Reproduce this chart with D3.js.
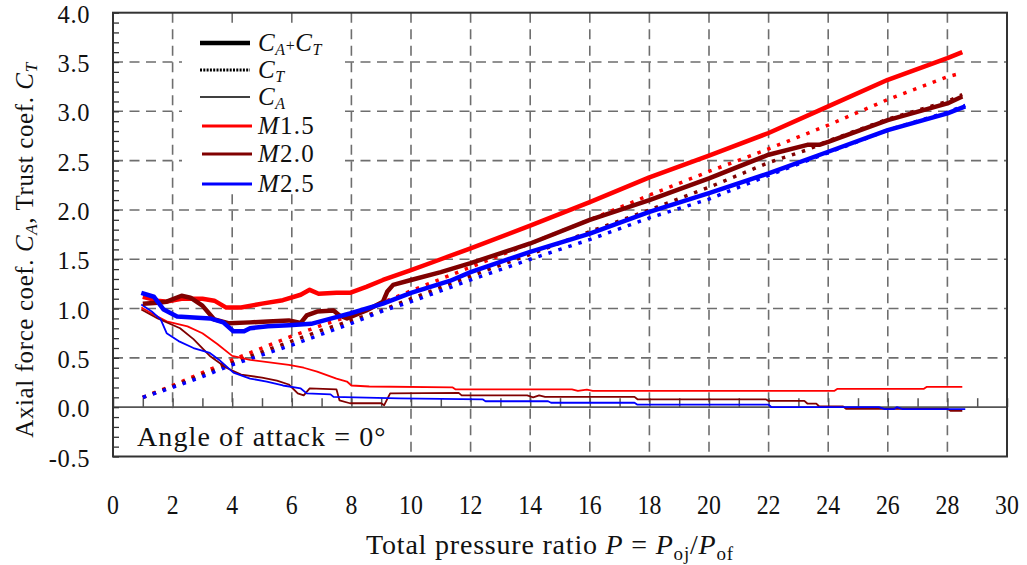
<!DOCTYPE html>
<html><head><meta charset="utf-8">
<script src="https://cdn.jsdelivr.net/npm/d3@7"></script>
<style>
body{margin:0;background:#fff;}
</style></head>
<body><svg id="c" width="1027" height="565" font-family="'Liberation Serif','DejaVu Serif','Noto Serif',serif"></svg>
<script>
// ---------- data ----------
const xTicks = [0,2,4,6,8,10,12,14,16,18,20,22,24,26,28,30];
const yTicks = [-0.5,0,0.5,1.0,1.5,2.0,2.5,3.0,3.5,4.0];

// M1.5 : CA+CT, CT, CA   [P, coefficient]
const m15Total = [[1.0,1.12],[1.5,1.08],[1.8,1.07],[2.3,1.10],[3.0,1.10],[3.4,1.08],[3.8,1.01],[4.3,1.01],[5.0,1.05],[5.7,1.085],[6.3,1.14],[6.6,1.19],[6.9,1.15],[7.5,1.16],[7.95,1.16],[8.5,1.22],[9.06,1.29],[10,1.39],[11,1.50],[12,1.61],[14,1.84],[16,2.08],[18,2.33],[20,2.55],[22,2.78],[24,3.05],[26,3.32],[28,3.54],[28.5,3.60]];
const m15Thrust = [[1.0,0.10],[2,0.22],[3,0.35],[4,0.48],[5,0.60],[6,0.72],[7,0.83],[8,0.93],[10,1.18],[12,1.42],[14,1.66],[16,1.90],[18,2.15],[20,2.39],[22,2.62],[24,2.86],[26,3.12],[28,3.35],[28.5,3.39]];
const m15Axial = [[0.95,1.01],[1.3,0.95],[1.8,0.87],[2.5,0.82],[3.0,0.75],[3.5,0.64],[4.0,0.52],[4.6,0.48],[5.9,0.43],[6.4,0.40],[6.85,0.36],[7.5,0.29],[7.85,0.26],[8.0,0.22],[8.6,0.21],[11.4,0.20],[11.5,0.18],[15.4,0.18],[15.6,0.165],[15.9,0.178],[16.1,0.165],[24.2,0.165],[24.3,0.185],[27.2,0.185],[27.3,0.205],[28.5,0.205]];

// M2.0
const m20Total = [[1.0,1.05],[1.5,1.06],[1.8,1.07],[2.3,1.13],[2.6,1.11],[3.0,1.03],[3.4,0.89],[3.9,0.85],[4.6,0.86],[5.2,0.87],[5.9,0.88],[6.3,0.855],[6.5,0.93],[6.85,0.97],[7.4,0.98],[7.6,0.93],[7.85,0.90],[8.5,0.98],[9.06,1.07],[9.2,1.17],[9.4,1.24],[10,1.29],[11,1.37],[12,1.46],[14,1.66],[16,1.90],[18,2.10],[20,2.32],[22,2.56],[23.3,2.66],[23.7,2.66],[24,2.69],[26,2.91],[28,3.08],[28.5,3.15]];
const m20Thrust = [[1.0,0.10],[2,0.21],[3,0.33],[4,0.45],[5,0.56],[6,0.67],[7,0.78],[8,0.88],[9,0.98],[10,1.10],[12,1.33],[14,1.55],[16,1.78],[18,2.00],[20,2.23],[22,2.48],[23.3,2.61],[24,2.70],[26,2.92],[28,3.10],[28.5,3.17]];
const m20Axial = [[0.95,0.99],[1.5,0.90],[2.25,0.80],[2.7,0.69],[3.25,0.52],[3.8,0.40],[4.3,0.33],[5.0,0.30],[5.5,0.27],[5.9,0.23],[6.2,0.14],[6.4,0.12],[6.6,0.19],[7.5,0.18],[7.6,0.07],[7.95,0.04],[9.0,0.04],[9.1,0.02],[9.3,0.14],[11.6,0.145],[11.7,0.12],[13.9,0.12],[14.1,0.10],[14.3,0.12],[14.5,0.105],[17.5,0.105],[17.6,0.08],[21.9,0.08],[22.0,0.064],[23.2,0.064],[23.3,0.037],[23.6,0.037],[23.7,0.007],[24.5,0.007],[24.6,-0.017],[28.0,-0.017],[28.1,-0.037],[28.5,-0.037]];

// M2.5
const m25Total = [[0.95,1.16],[1.37,1.12],[1.7,0.99],[2.15,0.92],[3.26,0.90],[3.7,0.86],[4.04,0.77],[4.4,0.77],[4.6,0.80],[5.2,0.82],[5.9,0.83],[6.65,0.845],[7.4,0.905],[7.95,0.95],[9.06,1.05],[10,1.16],[11.3,1.28],[12,1.37],[14,1.575],[16,1.76],[18,1.98],[20,2.17],[22,2.37],[24,2.59],[26,2.81],[28,2.98],[28.6,3.05]];
const m25Thrust = [[1.0,0.10],[2,0.20],[3,0.31],[4,0.43],[5,0.53],[6,0.63],[7,0.74],[8,0.85],[9,0.97],[10,1.07],[12,1.29],[14,1.50],[16,1.70],[18,1.92],[20,2.11],[22,2.35],[24,2.58],[26,2.81],[28,2.99],[28.6,3.06]];
const m25Axial = [[0.95,1.04],[1.3,0.97],[1.6,0.89],[1.8,0.75],[2.2,0.67],[2.7,0.60],[3.25,0.55],[3.6,0.47],[4.04,0.35],[4.6,0.29],[5.16,0.26],[5.7,0.22],[6.3,0.19],[6.5,0.14],[7.3,0.13],[7.4,0.105],[9.6,0.09],[12.4,0.08],[12.5,0.06],[14.6,0.06],[14.7,0.045],[17.5,0.045],[17.6,0.025],[22.0,0.025],[22.1,0.0],[25.7,0.0],[25.9,-0.02],[26.2,-0.02],[26.3,0.0],[26.5,-0.02],[28.6,-0.02]];

const machNames = ["1.5","2.0","2.5"];
const machColors = ["#ff0000","#800000","#0000ff"];

// ---------- drawing ----------
const svg = d3.select("#c");
const L=113, R=1007, T=12.7, B=456.5;
const x = d3.scaleLinear().domain([0,30]).range([L,R]);
const y = d3.scaleLinear().domain([-0.5,4]).range([B,T]);

// grid
const g = svg.append("g");
g.selectAll(".hg").data(yTicks.filter(v=>v>-0.5 && v<4 && v!==0)).enter().append("line")
  .attr("x1",L).attr("x2",R).attr("y1",d=>y(d)).attr("y2",d=>y(d))
  .attr("stroke","#6e6e6e").attr("stroke-width",1.6).attr("stroke-dasharray","10,6.5");
g.selectAll(".vg").data(xTicks.filter(v=>v>0 && v<30)).enter().append("line")
  .attr("x1",d=>x(d)).attr("x2",d=>x(d)).attr("y1",T).attr("y2",B)
  .attr("stroke","#6e6e6e").attr("stroke-width",1.6).attr("stroke-dasharray","10,6.5");

// white boxes for legend and annotation
svg.append("rect").attr("x",182).attr("y",27).attr("width",163).attr("height",163).attr("fill","#fff");
svg.append("rect").attr("x",L+1).attr("y",y(0)+1.5).attr("width",282).attr("height",B-y(0)-2.5).attr("fill","#fff");

// zero line with ticks
svg.append("line").attr("x1",L).attr("x2",R).attr("y1",y(0)).attr("y2",y(0))
  .attr("stroke","#555").attr("stroke-width",1.8);
svg.append("g").attr("transform",`translate(0,${y(0)})`)
  .call(d3.axisTop(x).ticks(30).tickSize(9).tickFormat(""))
  .call(a=>a.select(".domain").remove())
  .call(a=>a.selectAll("line").attr("stroke","#555").attr("stroke-width",1.5));

// data lines
const line = d3.line().x(d=>x(d[0])).y(d=>y(d[1]));
const sets = [[m15Total,m15Thrust,m15Axial],[m20Total,m20Thrust,m20Axial],[m25Total,m25Thrust,m25Axial]];
const dl = svg.append("g").attr("fill","none").attr("stroke-linejoin","round");
sets.forEach((s,i)=>{
  dl.append("path").attr("d",line(s[1])).attr("stroke",machColors[i]).attr("stroke-width",3.5).attr("stroke-dasharray","3.5,7");
});
sets.forEach((s,i)=>{
  dl.append("path").attr("d",line(s[2])).attr("stroke",machColors[i]).attr("stroke-width",1.8);
});
sets.forEach((s,i)=>{
  dl.append("path").attr("d",line(s[0])).attr("stroke",machColors[i]).attr("stroke-width",4.5);
});

// frame & left minor ticks
svg.append("g").attr("transform",`translate(${L},0)`)
  .call(d3.axisRight(y).ticks(45).tickSize(6).tickFormat(""))
  .call(a=>a.select(".domain").remove())
  .call(a=>a.selectAll("line").attr("stroke","#333").attr("stroke-width",1.3));
svg.append("rect").attr("x",L).attr("y",T).attr("width",R-L).attr("height",B-T)
  .attr("fill","none").attr("stroke","#333").attr("stroke-width",2);

// tick labels
svg.selectAll(".yl").data(yTicks).enter().append("text")
  .attr("x",90).attr("y",d=>y(d)+10).attr("text-anchor","end").attr("fill","#111")
  .attr("font-size",24.5).attr("letter-spacing",0.6).text(d=>d.toFixed(1));
svg.selectAll(".xl").data(xTicks).enter().append("text")
  .attr("transform",d=>`translate(${x(d)},514) scale(0.85,1)`).attr("text-anchor","middle").attr("fill","#111")
  .attr("font-size",28).text(d=>d);

// axis titles
const xt = svg.append("text").attr("transform","translate(550,554)").attr("text-anchor","middle")
  .attr("font-size",28).attr("letter-spacing",0.8).attr("fill","#111");
xt.append("tspan").text("Total pressure ratio ");
xt.append("tspan").attr("font-style","italic").text("P");
xt.append("tspan").text(" = ");
xt.append("tspan").attr("font-style","italic").text("P");
xt.append("tspan").attr("font-size",19).attr("dy",6).text("oj");
xt.append("tspan").attr("dy",-6).text("/");
xt.append("tspan").attr("font-style","italic").text("P");
xt.append("tspan").attr("font-size",19).attr("dy",6).text("of");

const yt = svg.append("text").attr("transform","translate(33,250) rotate(-90)").attr("text-anchor","middle")
  .attr("font-size",25).attr("letter-spacing",0.6).attr("fill","#111");
yt.append("tspan").text("Axial force coef. ");
yt.append("tspan").attr("font-style","italic").text("C");
yt.append("tspan").attr("font-style","italic").attr("font-size",17).attr("dy",4).text("A");
yt.append("tspan").attr("dy",-4).text(", Trust coef.  ");
yt.append("tspan").attr("font-style","italic").text("C");
yt.append("tspan").attr("font-style","italic").attr("font-size",17).attr("dy",4).text("T");

// annotation
svg.append("text").attr("x",137).attr("y",446).attr("font-size",28).attr("letter-spacing",1.1).attr("fill","#111").text("Angle of attack = 0°");

// legend
const lg = svg.append("g");
const lx1=200, lx2=250, tx=258;
const rows=[43,70,97,126,154,184];
lg.append("line").attr("x1",lx1).attr("x2",lx2).attr("y1",rows[0]).attr("y2",rows[0]).attr("stroke","#000").attr("stroke-width",4.5);
lg.append("line").attr("x1",lx1).attr("x2",lx2).attr("y1",rows[1]).attr("y2",rows[1]).attr("stroke","#000").attr("stroke-width",3).attr("stroke-dasharray","2,1.3");
lg.append("line").attr("x1",lx1).attr("x2",lx2).attr("y1",rows[2]).attr("y2",rows[2]).attr("stroke","#000").attr("stroke-width",1.4);
machColors.forEach((c,i)=>{
  lg.append("line").attr("x1",lx1+2).attr("x2",lx2+2).attr("y1",rows[3+i]).attr("y2",rows[3+i]).attr("stroke",c).attr("stroke-width",3);
});
function ct(yy,parts,ls){
  const el=lg.append("text").attr("x",tx).attr("y",yy+8).attr("font-size",25).attr("letter-spacing",ls).attr("fill","#111");
  parts.forEach(p=>{
    const s=el.append("tspan").text(p[0]);
    if(p[1]) s.attr("font-style","italic");
    if(p[2]) s.attr("font-size",16).attr("dy",p[2]);
  });
}
ct(rows[0],[["C",1],["A",1,4],["+",0,-4],["C",1],["T",1,4]],0.6);
ct(rows[1],[["C",1],["T",1,4]],0.6);
ct(rows[2],[["C",1],["A",1,4]],0.6);
machNames.forEach((m,i)=>ct(rows[3+i],[["M",1],[m,0]],1.2));
</script></body></html>
